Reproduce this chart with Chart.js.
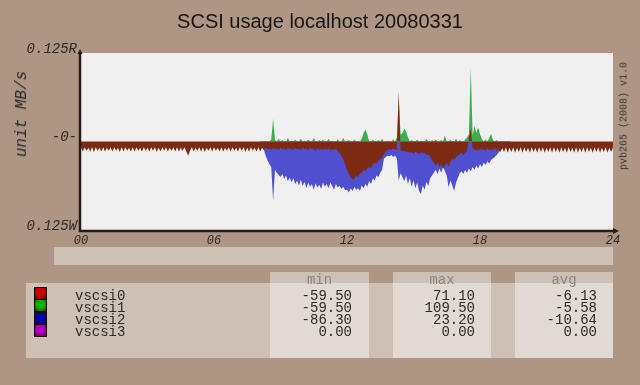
<!DOCTYPE html>
<html>
<head>
<meta charset="utf-8">
<script src="https://cdn.jsdelivr.net/npm/chart.js@4.4.1/dist/chart.umd.min.js"></script>
<style>
  html, body { margin: 0; padding: 0; }
  body { width: 640px; height: 385px; background: #af9684; position: relative; overflow: hidden;
         font-family: "Liberation Mono", monospace; color: #2a2a2a; }
  #chart { position: absolute; left: 0; top: 0; }
  .abs { position: absolute; }
  #title { left: 0; top: 11px; width: 640px; text-align: center; font: 20px/20px "Liberation Sans", sans-serif; color: #151515; }
  #ytitle { left: 22px; top: 114px; transform: translate(-50%, -50%) rotate(-90deg); font: italic 16px "Liberation Mono", monospace; white-space: nowrap; }
  #sig { left: 624px; top: 116px; transform: translate(-50%, -50%) rotate(-90deg); font: 10px "Liberation Mono", monospace; white-space: nowrap; color: #333; }
  .pane { background: rgba(255, 255, 255, 0.4); }
  .hdr { position: absolute; top: 273px; font-size: 14px; line-height: 14px; color: #8c8580; text-align: center; }
  .col { position: absolute; top: 290px; font-size: 14px; line-height: 12px; white-space: pre; }
  .sw { position: absolute; left: 34px; width: 11px; height: 11px; border: 1px solid #1a0808; }
</style>
</head>
<body>
<canvas id="chart" width="640" height="385"></canvas>
<div id="title" class="abs">SCSI usage localhost 20080331</div>
<div id="ytitle" class="abs">unit MB/s</div>
<div id="sig" class="abs">pvb265 (2008) v1.0</div>

<div class="abs pane" style="left:54px;top:247px;width:559px;height:18px"></div>
<div class="abs pane" style="left:26px;top:283px;width:587px;height:75px"></div>
<div class="abs pane" style="left:270px;top:272px;width:99px;height:86px"></div>
<div class="abs pane" style="left:393px;top:272px;width:98px;height:86px"></div>
<div class="abs pane" style="left:515px;top:272px;width:98px;height:86px"></div>
<div id="legend"></div>

<script>
// 5 minute samples, 00:00 .. 24:00
const STEP_H = 5 / 60;
const names = ['vscsi0', 'vscsi1', 'vscsi2', 'vscsi3'];
const swatch = ['#d00000', '#00b400', '#0000b4', '#b400c4'];
const fills = ['#7c2a12', '#3cae4c', '#4f4fd0', '#a000b0'];
const statMin = ['-59.50', '-59.50', '-86.30', '0.00'];
const statMax = ['71.10', '109.50', '23.20', '0.00'];
const statAvg = ['-6.13', '-5.58', '-10.64', '0.00'];
const yTicks = [-125, 0, 125];
const yTickLabels = ['0.125W', '-0-', '0.125R'];
const xTicks = ['00', '06', '12', '18', '24'];

const vscsi0 = [
  -8,-14,-8,-13,-9,-14,-8,-15,-8,-13,-9,-14,
  -8,-14,-9,-13,-8,-14,-8,-13,-9,-15,-8,-14,
  -8,-13,-9,-14,-8,-14,-8,-13,-9,-14,-8,-13,
  -9,-14,-8,-13,-8,-15,-9,-14,-8,-13,-8,-14,
  -9,-13,-8,-14,-8,-14,-9,-13,-8,-14,-20,-13,
  -8,-14,-9,-13,-8,-14,-8,-15,-9,-13,-8,-14,
  -8,-13,-9,-14,-8,-14,-9,-13,-8,-14,-8,-13,
  -9,-14,-8,-13,-8,-15,-9,-14,-8,-13,-9,-14,
  -8,-14,-9,-12,-9,-11,-10,-12,-9,-11,-10,-12,
  -9,-11,-10,-12,-9,-11,-10,-12,-9,-11,-10,-12,
  -9,-11,-10,-12,-9,-11,-10,-13,-9,-12,-10,-12,
  -10,-12,-9,-13,-11,-12,-10,-14,-16,-20,-25,-32,
  -40,-46,-50,-54,-52,-48,-50,-46,-44,-40,-42,-38,
  -36,-38,-32,-30,-31,-27,-25,-22,-18,-14,-12,-11,
  -12,-10,-11,-12,71,-12,-14,-13,-15,-14,-16,-15,
  -17,-14,-16,-18,-15,-17,-16,-19,-18,-22,-26,-30,
  -34,-30,-36,-32,-38,-34,-30,-36,-28,-24,-26,-22,
  -20,-18,-16,-19,-15,-14,5,18,-10,-12,-11,-13,
  -10,-12,-11,-13,-10,-12,-11,-13,-9,-14,-10,-15,
  -9,-15,-8,-16,-9,-15,-8,-16,-9,-15,-8,-16,
  -8,-15,-9,-16,-8,-15,-9,-16,-8,-15,-8,-16,
  -9,-15,-8,-16,-8,-15,-9,-16,-8,-15,-9,-16,
  -8,-15,-9,-16,-8,-16,-9,-15,-8,-16,-8,-15,
  -9,-16,-8,-15,-8,-16,-9,-15,-8,-16,-9,-15,
  -8
];

const vscsi1 = [
  0,0,0,0,0,0,0,0,0,0,0,0,
  0,0,0,0,0,0,0,0,0,0,0,0,
  0,0,0,0,0,0,0,0,0,0,0,0,
  0,0,0,0,0,0,0,0,0,0,0,0,
  0,0,0,0,0,0,0,0,0,0,0,0,
  0,0,0,0,0,0,0,0,0,0,0,0,
  0,0,0,0,0,0,0,0,0,0,0,0,
  0,0,0,0,0,0,0,0,0,0,0,0,
  0,0,0,0,1,0,0,3,32,2,0,4,
  0,2,0,0,5,0,1,0,3,0,0,4,
  0,1,0,3,0,0,5,0,0,2,0,3,
  0,0,4,0,1,0,0,3,0,0,5,0,
  0,2,0,0,3,0,1,0,4,12,17,10,
  0,0,3,0,0,2,0,4,0,0,1,0,
  0,3,0,6,60,10,12,18,14,6,0,2,
  0,0,3,0,1,0,0,4,0,0,2,0,
  3,0,0,2,0,8,0,0,3,0,0,4,
  0,2,0,0,3,6,10,104,8,22,12,20,
  10,4,0,3,0,5,11,2,0,2,0,0,
  0,0,0,0,0,0,0,0,0,0,0,0,
  0,0,0,0,0,0,0,0,0,0,0,0,
  0,0,0,0,0,0,0,0,0,0,0,0,
  0,0,0,0,0,0,0,0,0,0,0,0,
  0,0,0,0,0,0,0,0,0,0,0,0,
  0
];

const vscsi2 = [
  0,0,0,0,0,0,0,0,0,0,0,0,
  0,0,0,0,0,0,0,0,0,0,0,0,
  0,0,0,0,0,0,0,0,0,0,0,0,
  0,0,0,0,0,0,0,0,0,0,0,0,
  0,0,0,0,0,0,0,0,0,0,0,0,
  0,0,0,0,0,0,0,0,0,0,0,0,
  0,0,0,0,0,0,0,0,0,0,0,0,
  0,0,0,0,0,0,0,0,0,0,0,0,
  0,0,-4,-12,-20,-27,-32,-36,-84,-40,-44,-47,
  -50,-46,-53,-48,-56,-51,-58,-52,-60,-55,-62,-54,
  -63,-57,-66,-58,-64,-60,-68,-59,-65,-61,-67,-58,
  -64,-60,-66,-58,-63,-68,-60,-65,-62,-67,-64,-69,
  -68,-72,-66,-70,-64,-68,-66,-70,-62,-66,-60,-64,
  -56,-60,-52,-55,-48,-50,-44,-40,-24,-22,-20,-21,
  -19,-22,-20,-24,-55,-45,-50,-56,-48,-60,-52,-64,
  -55,-66,-58,-70,-74,-62,-68,-57,-63,-52,-48,-44,
  -40,-46,-38,-44,-36,-42,-48,-65,-55,-62,-70,-58,
  -52,-45,-42,-46,-40,-44,-38,-42,-36,-40,-34,-38,
  -32,-36,-30,-33,-28,-31,-26,-24,-22,-19,-16,-13,
  -10,-8,-6,-4,-2,0,0,0,0,0,0,0,
  0,0,0,0,0,0,0,0,0,0,0,0,
  0,0,0,0,0,0,0,0,0,0,0,0,
  0,0,0,0,0,0,0,0,0,0,0,0,
  0,0,0,0,0,0,0,0,0,0,0,0,
  0
];

const vscsi3 = [
  0,0,0,0,0,0,0,0,0,0,0,0, 0,0,0,0,0,0,0,0,0,0,0,0,
  0,0,0,0,0,0,0,0,0,0,0,0, 0,0,0,0,0,0,0,0,0,0,0,0,
  0,0,0,0,0,0,0,0,0,0,0,0, 0,0,0,0,0,0,0,0,0,0,0,0,
  0,0,0,0,0,0,0,0,0,0,0,0, 0,0,0,0,0,0,0,0,0,0,0,0,
  0,0,0,0,0,0,0,0,0,0,0,0, 0,0,0,0,0,0,0,0,0,0,0,0,
  0,0,0,0,0,0,0,0,0,0,0,0, 0,0,0,0,0,0,0,0,0,0,0,0,
  0,0,0,0,0,0,0,0,0,0,0,0, 0,0,0,0,0,0,0,0,0,0,0,0,
  0,0,0,0,0,0,0,0,0,0,0,0, 0,0,0,0,0,0,0,0,0,0,0,0,
  0,0,0,0,0,0,0,0,0,0,0,0, 0,0,0,0,0,0,0,0,0,0,0,0,
  0,0,0,0,0,0,0,0,0,0,0,0, 0,0,0,0,0,0,0,0,0,0,0,0,
  0,0,0,0,0,0,0,0,0,0,0,0, 0,0,0,0,0,0,0,0,0,0,0,0,
  0,0,0,0,0,0,0,0,0,0,0,0, 0,0,0,0,0,0,0,0,0,0,0,0,
  0
];

const series = [vscsi0, vscsi1, vscsi2, vscsi3];

// legend table below the graph
const legend = document.getElementById('legend');
let html = '';
names.forEach((n, i) => {
  html += `<div class="sw" style="top:${287 + i * 12.3}px;background:radial-gradient(circle at 50% 40%, ${swatch[i]}, ${swatch[i]} 45%, #300 120%)"></div>`;
});
html += `<div class="col" style="left:75px">${names.join('\n')}</div>`;
html += `<div class="hdr" style="left:270px;width:99px">min</div>`;
html += `<div class="hdr" style="left:393px;width:98px">max</div>`;
html += `<div class="hdr" style="left:515px;width:98px">avg</div>`;
html += `<div class="col" style="left:270px;width:82px;text-align:right">${statMin.join('\n')}</div>`;
html += `<div class="col" style="left:393px;width:82px;text-align:right">${statMax.join('\n')}</div>`;
html += `<div class="col" style="left:515px;width:82px;text-align:right">${statAvg.join('\n')}</div>`;
legend.innerHTML = html;

// plot background and the axis lines with arrows
const frame = {
  id: 'frame',
  beforeDatasetsDraw(chart) {
    const { ctx, chartArea: a } = chart;
    ctx.save();
    ctx.fillStyle = '#f0f0f0';
    ctx.fillRect(a.left, a.top, a.right - a.left, a.bottom - a.top);
    ctx.restore();
  },
  afterDatasetsDraw(chart) {
    const { ctx, chartArea: a } = chart;
    ctx.save();
    ctx.strokeStyle = '#241c18';
    ctx.fillStyle = '#241c18';
    ctx.lineWidth = 2.5;
    ctx.beginPath();
    ctx.moveTo(a.left - 1, a.top - 1);
    ctx.lineTo(a.left - 1, a.bottom + 1);
    ctx.lineTo(a.right + 2, a.bottom + 1);
    ctx.stroke();
    ctx.beginPath();
    ctx.moveTo(a.right + 6, a.bottom + 1);
    ctx.lineTo(a.right, a.bottom - 2);
    ctx.lineTo(a.right, a.bottom + 4);
    ctx.closePath();
    ctx.fill();
    ctx.beginPath();
    ctx.moveTo(a.left - 1, a.top - 4);
    ctx.lineTo(a.left - 3.5, a.top + 1);
    ctx.lineTo(a.left + 1.5, a.top + 1);
    ctx.closePath();
    ctx.fill();
    ctx.restore();
  }
};

new Chart(document.getElementById('chart'), {
  type: 'line',
  data: {
    datasets: series.map((s, i) => ({
      label: names[i],
      data: s.map((v, k) => ({ x: k * STEP_H, y: v })),
      backgroundColor: fills[i],
      borderWidth: 0,
      fill: 'origin',
      pointRadius: 0,
      tension: 0
    }))
  },
  options: {
    responsive: false,
    animation: false,
    layout: { padding: { top: 53, right: 27, left: 0, bottom: 0 } },
    plugins: { legend: { display: false }, tooltip: { enabled: false } },
    scales: {
      x: {
        type: 'linear', min: 0, max: 24,
        afterBuildTicks: s => { s.ticks = xTicks.map(t => ({ value: Number(t) })); },
        afterFit: s => { s.height = 155; },
        ticks: {
          padding: 4, color: '#2a2a2a', maxRotation: 0,
          font: { family: 'Liberation Mono', size: 12, style: 'italic' },
          callback: v => xTicks[xTicks.indexOf(String(v).padStart(2, '0'))]
        },
        grid: { display: false, drawTicks: false },
        border: { display: false }
      },
      y: {
        min: -125, max: 125,
        afterBuildTicks: s => { s.ticks = yTicks.map(v => ({ value: v })); },
        afterFit: s => { s.width = 81; },
        ticks: {
          padding: 4, labelOffset: -4, color: '#2a2a2a',
          font: { family: 'Liberation Mono', size: 14, style: 'italic' },
          callback: v => yTickLabels[yTicks.indexOf(v)]
        },
        grid: { display: false, drawTicks: false },
        border: { display: false }
      }
    }
  },
  plugins: [frame]
});
</script>
</body>
</html>
